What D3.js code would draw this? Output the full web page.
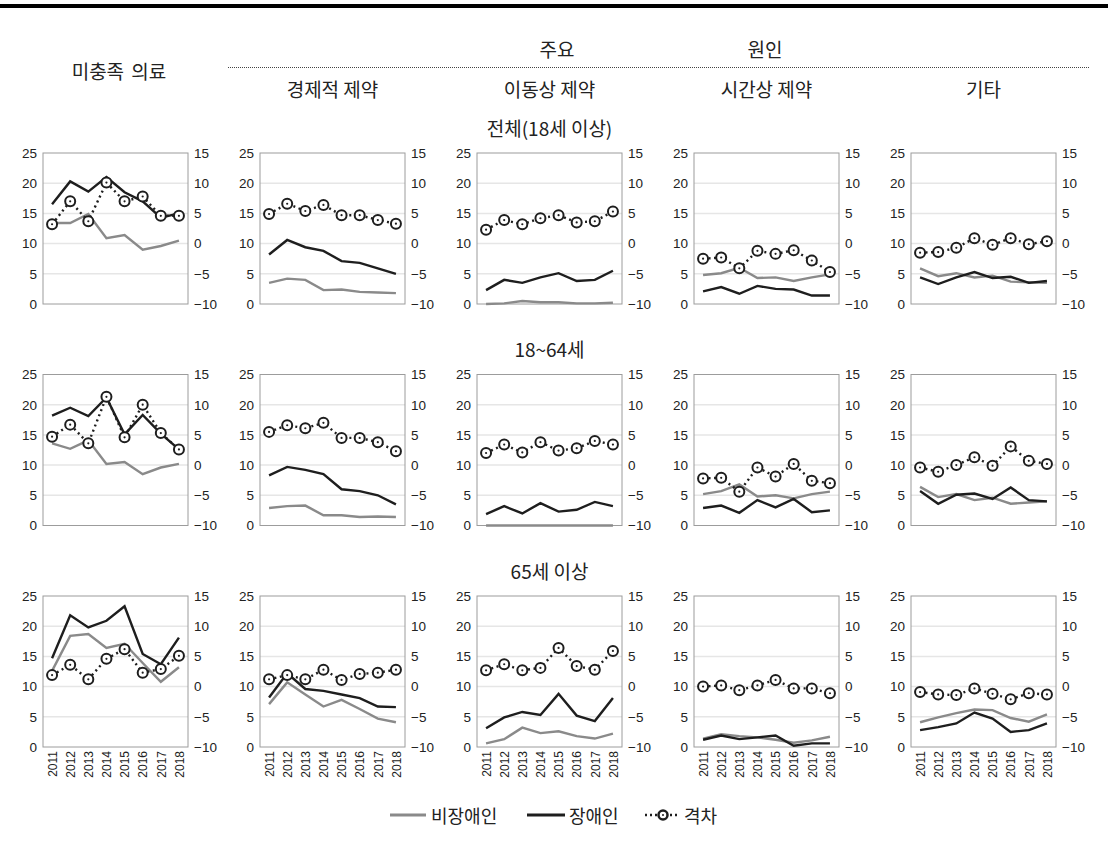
<!DOCTYPE html>
<html><head><meta charset="utf-8">
<script src="https://cdn.jsdelivr.net/npm/d3@7"></script>
<style>
body{margin:0;background:#fff;}
svg{display:block;}
.kr{font-family:"Noto Sans CJK KR","Noto Sans",sans-serif;}
.tick text{font-family:"Liberation Sans",Arial,sans-serif;font-size:13.5px;fill:#222;}
</style></head>
<body><svg id="c" width="1108" height="856"></svg>
<script>
const years = ["2011","2012","2013","2014","2015","2016","2017","2018"];
const colTitles = ["미충족 의료","경제적 제약","이동상 제약","시간상 제약","기타"];
const rowTitles = ["전체(18세 이상)","18~64세","65세 이상"];
const leftTicks = [0,5,10,15,20,25];
const rightTicks = [-10,-5,0,5,10,15];
const legendLabels = ["비장애인","장애인","격차"];

// 전체(18세 이상)
const nonDisabledAll = [
 [13.4,13.4,14.9,10.9,11.4,9.0,9.6,10.5],
 [3.5,4.2,4.0,2.3,2.4,2.0,1.9,1.8],
 [0.0,0.1,0.5,0.3,0.3,0.1,0.1,0.2],
 [4.8,5.1,6.0,4.3,4.4,3.8,4.4,4.9],
 [5.9,4.6,5.1,4.4,4.7,3.7,3.6,3.5]];
const disabledAll = [
 [16.5,20.3,18.6,21.0,18.5,17.0,14.3,15.0],
 [8.2,10.6,9.4,8.8,7.1,6.8,5.9,5.0],
 [2.3,4.0,3.5,4.4,5.1,3.8,4.0,5.5],
 [2.1,2.8,1.7,3.0,2.5,2.4,1.4,1.4],
 [4.4,3.3,4.4,5.3,4.3,4.5,3.5,3.8]];
const gapAll = [
 [3.2,7.0,3.7,10.1,7.0,7.8,4.6,4.6],
 [4.9,6.6,5.4,6.4,4.7,4.7,3.9,3.3],
 [2.3,3.9,3.2,4.2,4.7,3.5,3.7,5.3],
 [-2.5,-2.3,-4.1,-1.2,-1.7,-1.1,-2.8,-4.7],
 [-1.5,-1.4,-0.7,0.9,-0.2,0.9,-0.1,0.4]];

// 18~64세
const nonDisabled1864 = [
 [13.6,12.7,14.1,10.2,10.5,8.5,9.6,10.2],
 [2.9,3.2,3.3,1.7,1.7,1.4,1.5,1.4],
 [0.0,0.0,0.0,0.0,0.0,0.0,0.0,0.0],
 [5.2,5.7,6.8,4.8,5.0,4.5,5.2,5.6],
 [6.4,4.7,5.2,4.2,4.6,3.6,3.8,4.0]];
const disabled1864 = [
 [18.2,19.5,18.1,21.2,15.1,18.3,15.2,12.6],
 [8.3,9.7,9.2,8.5,6.0,5.7,5.0,3.5],
 [1.9,3.2,2.0,3.7,2.3,2.6,3.9,3.2],
 [2.9,3.3,2.1,4.2,3.0,4.4,2.2,2.5],
 [5.7,3.6,5.1,5.3,4.4,6.3,4.2,4.0]];
const gap1864 = [
 [4.7,6.7,3.6,11.3,4.6,10.0,5.3,2.6],
 [5.5,6.6,6.1,7.0,4.5,4.5,3.8,2.3],
 [2.0,3.4,2.1,3.8,2.4,2.8,4.0,3.4],
 [-2.2,-2.1,-4.4,-0.4,-1.9,0.2,-2.6,-3.0],
 [-0.4,-1.1,0.0,1.3,-0.1,3.1,0.7,0.2]];

// 65세 이상
const nonDisabled65 = [
 [12.6,18.4,18.7,16.4,17.1,13.9,10.8,13.2],
 [7.1,10.7,8.7,6.7,7.8,6.3,4.7,4.1],
 [0.6,1.3,3.2,2.3,2.6,1.8,1.4,2.2],
 [1.4,2.1,1.8,1.6,1.2,0.7,1.1,1.7],
 [4.1,4.9,5.6,6.2,6.1,4.8,4.2,5.4]];
const disabled65 = [
 [14.7,21.8,19.8,20.9,23.3,15.4,13.7,18.1],
 [8.2,12.2,9.6,9.3,8.7,8.1,6.7,6.6],
 [3.1,4.9,5.8,5.3,8.8,5.2,4.3,8.1],
 [1.2,1.9,1.3,1.6,1.9,0.2,0.6,0.6],
 [2.8,3.3,3.9,5.7,4.7,2.5,2.8,3.9]];
const gap65 = [
 [1.9,3.6,1.2,4.6,6.2,2.3,2.9,5.1],
 [1.2,1.9,1.2,2.8,1.1,2.1,2.3,2.8],
 [2.7,3.7,2.7,3.1,6.4,3.4,2.8,5.9],
 [0.0,0.2,-0.6,0.2,1.1,-0.3,-0.3,-1.1],
 [-0.9,-1.3,-1.4,-0.3,-1.2,-2.1,-1.1,-1.3]];

const rows = [
 {nd: nonDisabledAll, d: disabledAll, g: gapAll},
 {nd: nonDisabled1864, d: disabled1864, g: gap1864},
 {nd: nonDisabled65, d: disabled65, g: gap65}];

const svg = d3.select("#c");
const GRAY = "#8a8a8a", BLACK = "#1e1e1e";

// top rule
svg.append("rect").attr("x",0).attr("y",4).attr("width",1108).attr("height",4).attr("fill","#000");

function txt(x,y,s,size,anchor){
  return svg.append("text").attr("class","kr").attr("x",x).attr("y",y)
   .attr("text-anchor",anchor||"middle").attr("dominant-baseline","central")
   .attr("font-size",size).attr("fill","#222").text(s);
}
const W = 145, H = 151;
const px = c => 43 + c*217;
const py = r => 153 + r*221.5;
const HS = 19;

txt(119,70,colTitles[0],HS).attr("word-spacing","3px");
txt(557,48,"주요",HS);
txt(765,48,"원인",HS);
svg.append("line").attr("x1",228).attr("x2",1090).attr("y1",67.5).attr("y2",67.5)
  .attr("stroke","#444").attr("stroke-width",1).attr("stroke-dasharray","1,1");
for(let c=1;c<5;c++) txt(px(c)+W/2,88,colTitles[c],HS);
rowTitles.forEach((t,r)=>txt(px(2)+W/2, py(r)-26, t, HS));

const x = d3.scalePoint().domain(years).range([0,W]).padding(0.5);
const yL = d3.scaleLinear().domain([0,25]).range([H,0]);
const yR = d3.scaleLinear().domain([-10,15]).range([H,0]);

rows.forEach((row,r)=>{
  for(let c=0;c<5;c++){
    const g = svg.append("g").attr("transform",`translate(${px(c)},${py(r)})`);
    g.selectAll(".grid").data(leftTicks.filter(v=>v>0&&v<25)).join("line")
     .attr("x1",0).attr("x2",W).attr("y1",d=>yL(d)).attr("y2",d=>yL(d))
     .attr("stroke","#e6e6e6").attr("stroke-width",1.5);
    const la = g.append("g").call(d3.axisLeft(yL).tickValues(leftTicks).tickSize(0).tickPadding(6));
    la.select(".domain").remove();
    const ra = g.append("g").attr("transform",`translate(${W},0)`)
      .call(d3.axisRight(yR).tickValues(rightTicks).tickSize(0).tickPadding(6));
    ra.select(".domain").remove();
    if(r===2){
      const ba = g.append("g").attr("transform",`translate(0,${H})`)
        .call(d3.axisBottom(x).tickSize(0).tickPadding(0));
      ba.select(".domain").remove();
      ba.selectAll("text").attr("transform","rotate(-90)").attr("text-anchor","end")
        .attr("x",-4).attr("y",0).attr("dy","0.35em").style("font-size","12px");
    }
    g.append("rect").attr("x",0).attr("y",0).attr("width",W).attr("height",H)
     .attr("fill","none").attr("stroke","#9c9c9c").attr("stroke-width",1);
    const lineL = d3.line().x((d,i)=>x(years[i])).y(d=>yL(d));
    const lineR = d3.line().x((d,i)=>x(years[i])).y(d=>yR(d));
    g.append("path").attr("d",lineL(row.nd[c])).attr("fill","none").attr("stroke",GRAY).attr("stroke-width",2.4);
    g.append("path").attr("d",lineL(row.d[c])).attr("fill","none").attr("stroke",BLACK).attr("stroke-width",2.4);
    g.append("path").attr("d",lineR(row.g[c])).attr("fill","none").attr("stroke",BLACK)
      .attr("stroke-width",2.4).attr("stroke-dasharray","2,3.5");
    const m = g.selectAll(".mk").data(row.g[c]).join("g")
      .attr("transform",(d,i)=>`translate(${x(years[i])},${yR(d)})`);
    m.append("circle").attr("r",5).attr("fill","#fff").attr("stroke",BLACK).attr("stroke-width",2);
    m.append("circle").attr("r",1.1).attr("fill",BLACK);
  }
});

// legend
const ly = 815, LS = 18;
svg.append("line").attr("x1",390).attr("x2",426).attr("y1",ly).attr("y2",ly).attr("stroke",GRAY).attr("stroke-width",3);
txt(431,ly,legendLabels[0],LS,"start");
svg.append("line").attr("x1",527).attr("x2",565).attr("y1",ly).attr("y2",ly).attr("stroke",BLACK).attr("stroke-width",3);
txt(569,ly,legendLabels[1],LS,"start");
svg.append("line").attr("x1",645).attr("x2",680).attr("y1",ly).attr("y2",ly).attr("stroke",BLACK)
  .attr("stroke-width",2.4).attr("stroke-dasharray","2,3");
svg.append("circle").attr("cx",663).attr("cy",ly).attr("r",4.5).attr("fill","#fff").attr("stroke",BLACK).attr("stroke-width",2.5);
svg.append("circle").attr("cx",663).attr("cy",ly).attr("r",1).attr("fill",BLACK);
txt(684,ly,legendLabels[2],LS,"start");
</script></body></html>
